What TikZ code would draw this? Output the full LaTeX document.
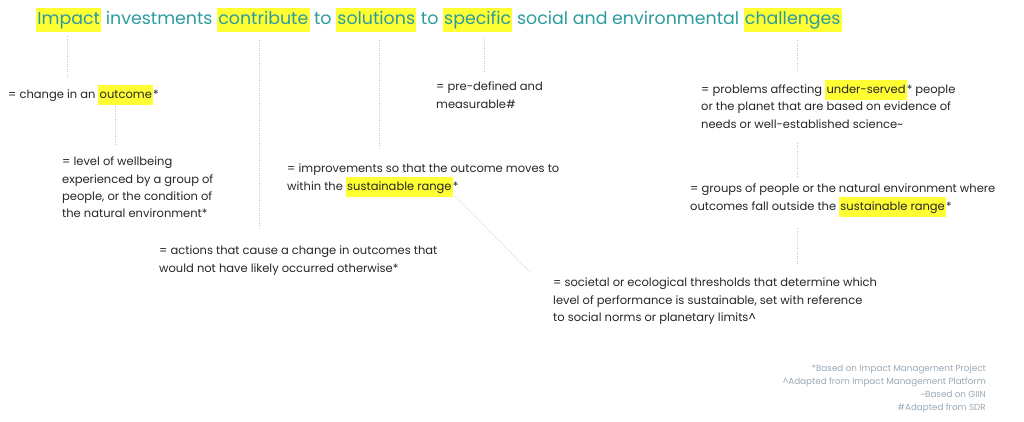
\documentclass[tikz,border=0pt]{standalone}
\usepackage{fontspec}
\setmainfont{Poppins}
\definecolor{teal1}{HTML}{2A9CA0}
\definecolor{hly}{HTML}{FFFF33}
\definecolor{lgray}{HTML}{C8C8C8}
\definecolor{fgray}{HTML}{9AA8B4}
\newcommand{\hlx}[1]{{\setlength{\fboxsep}{1.2pt}\colorbox{hly}{\strut #1}}}
\begin{document}
\begin{tikzpicture}[x=1pt,y=-1pt,
  txt/.style={anchor=north west,inner sep=0pt,align=left,font=\fontsize{11.5}{17.3}\selectfont,text=black!85},
  foot/.style={anchor=north east,inner sep=0pt,align=right,font=\fontsize{8.8}{13}\selectfont,text=fgray},
  dots/.style={lgray,line width=0.7pt,dash pattern=on 1pt off 1.5pt}]
\useasboundingbox (0,0) rectangle (1024,421);
\node[anchor=west,inner sep=0pt,text=teal1,font=\fontsize{17.4}{22}\selectfont] (title) at (36,20)
 {\hlx{Impact} investments \hlx{contribute} to \hlx{solutions} to \hlx{specific} social and environmental \hlx{challenges}};
\node[txt] (t1) at (8,85) {= change in an \hlx{outcome}*};
\node[txt] (t2) at (62,157) {= level of wellbeing\\experienced by a group of\\people, or the condition of\\the natural environment*};
\node[txt] (t3) at (159,246) {= actions that cause a change in outcomes that\\would not have likely occurred otherwise*};
\node[txt] (t4) at (287,164) {= improvements so that the outcome moves to\\within the \hlx{sustainable range}*};
\node[txt] (t5) at (436,82) {= pre-defined and\\measurable\#};
\node[txt] (t6) at (701,80) {= problems affecting \hlx{under-served}* people\\or the planet that are based on evidence of\\needs or well-established science\textasciitilde};
\node[txt] (t7) at (690,184) {= groups of people or the natural environment where\\outcomes fall outside the \hlx{sustainable range}*};
\node[txt] (t8) at (553,278) {= societal or ecological thresholds that determine which\\level of performance is sustainable, set with reference\\to social norms or planetary limits\textasciicircum};
\node[foot] (f) at (986,365) {*Based on Impact Management Project\\\textasciicircum Adapted from Impact Management Platform\\\textasciitilde Based on GIIN\\\#Adapted from SDR};
\draw[dots] (67,36) -- (67,78);
\draw[dots] (115,106) -- (115,146);
\draw[dots] (259,40) -- (259,228);
\draw[dots] (379,40) -- (379,150);
\draw[dots] (484,38) -- (484,72);
\draw[dots] (797,40) -- (797,72);
\draw[dots] (797,143) -- (797,178);
\draw[dots] (797,228) -- (797,265);
\draw[dots] (455,196) -- (530,272);
\end{tikzpicture}
\end{document}
